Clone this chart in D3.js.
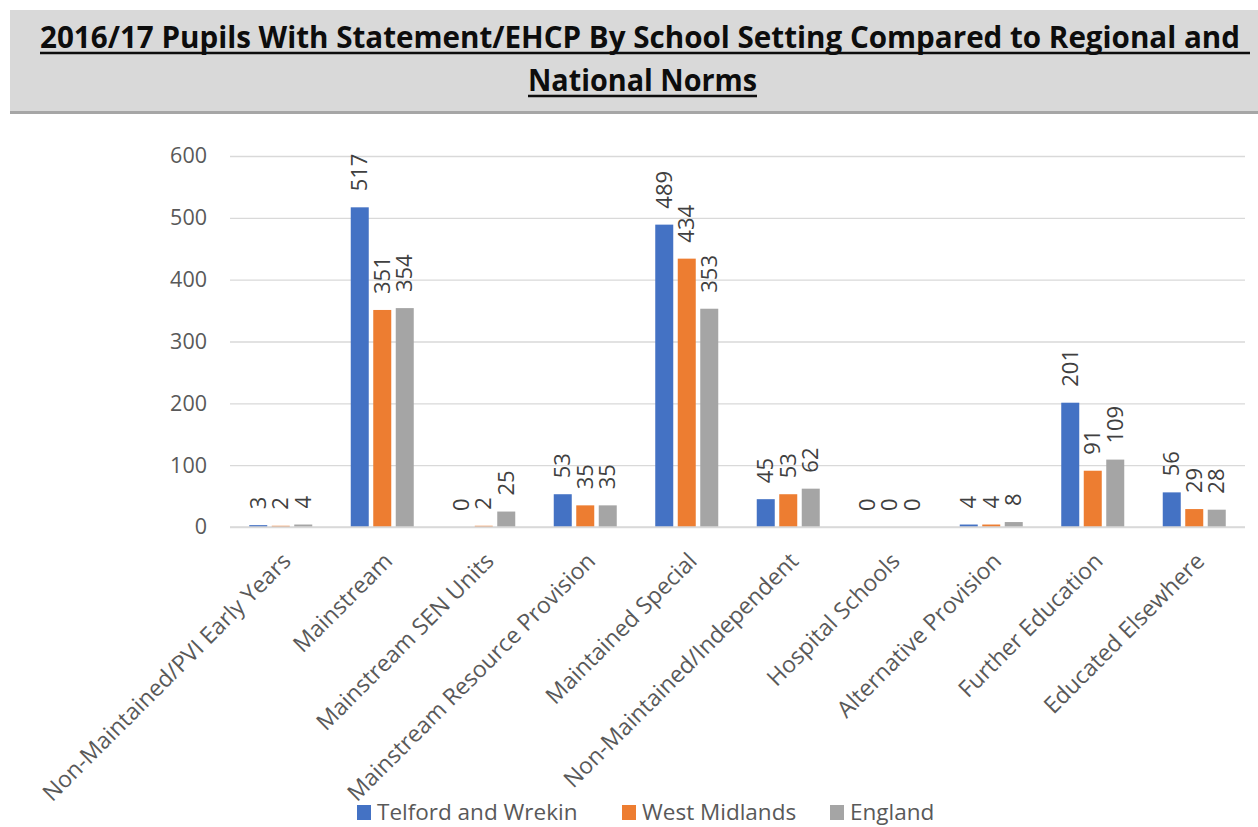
<!DOCTYPE html>
<html>
<head>
<meta charset="utf-8">
<script src="https://cdn.jsdelivr.net/npm/d3@7"></script>
<style>
  html, body { margin: 0; padding: 0; background: #ffffff; }
  svg { display: block; }
</style>
</head>
<body>
<svg id="chart" width="1258" height="827"></svg>
<script>
// Pupils with a Statement/EHCP, by school setting, 2016/17
const categories = [
  "Non-Maintained/PVI Early Years",
  "Mainstream",
  "Mainstream SEN Units",
  "Mainstream Resource Provision",
  "Maintained Special",
  "Non-Maintained/Independent",
  "Hospital Schools",
  "Alternative Provision",
  "Further Education",
  "Educated Elsewhere"
];
const seriesNames = ["Telford and Wrekin", "West Midlands", "England"];
const telfordWrekin = [3, 517, 0, 53, 489, 45, 0, 4, 201, 56];
const westMidlands  = [2, 351, 2, 35, 434, 53, 0, 4, 91, 29];
const england       = [4, 354, 25, 35, 353, 62, 0, 8, 109, 28];
const yTicks = [0, 100, 200, 300, 400, 500, 600];
const titleLines = [
  "2016/17 Pupils With Statement/EHCP By School Setting Compared to Regional and",
  "National Norms"
];

const seriesValues = [telfordWrekin, westMidlands, england];
const colors = ["#4472c4", "#ed7d31", "#a5a5a5"];
const fontUI = "'Open Sans', 'Noto Sans', sans-serif";

const svg = d3.select("#chart");

// ---- title band ----
svg.append("rect").attr("x", 10).attr("y", 10).attr("width", 1248).attr("height", 102)
  .attr("fill", "#d9d9d9");
svg.append("rect").attr("x", 10).attr("y", 111).attr("width", 1248).attr("height", 3)
  .attr("fill", "#a6a6a6");

const titleSpec = [
  { y: 48, x: 40, len: 1200, ul: [40, 1250], uy: 53 },
  { y: 91, x: 528, len: 229, ul: [528, 757], uy: 96 }
];
titleLines.forEach((t, i) => {
  const s = titleSpec[i];
  svg.append("text")
    .attr("x", s.x).attr("y", s.y)
    .attr("textLength", s.len).attr("lengthAdjust", "spacingAndGlyphs")
    .attr("font-family", fontUI).attr("font-weight", 700).attr("font-size", 30)
    .attr("fill", "#0d0d0d")
    .text(t);
  svg.append("line")
    .attr("x1", s.ul[0]).attr("x2", s.ul[1]).attr("y1", s.uy).attr("y2", s.uy)
    .attr("stroke", "#0d0d0d").attr("stroke-width", 2.5);
});

// ---- scales ----
const plot = { left: 230, right: 1245, top: 156, bottom: 527 };
const y = d3.scaleLinear().domain([0, 600]).range([plot.bottom, plot.top]);
const x0 = d3.scaleBand().domain(categories).range([plot.left, plot.right]).padding(0);
const groupWidth = 63;
const x1 = d3.scaleBand().domain(seriesNames).range([0, groupWidth]).paddingInner(0.2).paddingOuter(0);

// ---- gridlines and y labels ----
const yAxis = d3.axisLeft(y).tickValues(yTicks).tickSize(-(plot.right - plot.left)).tickPadding(23);
const gy = svg.append("g").attr("transform", `translate(${plot.left},0)`).call(yAxis);
gy.select(".domain").remove();
gy.selectAll(".tick line").attr("stroke", "#d9d9d9").attr("stroke-width", 1.3);
gy.selectAll(".tick text")
  .attr("font-family", fontUI).attr("font-size", 21.5).attr("fill", "#595959");

// ---- bars ----
const groups = svg.append("g").selectAll("g")
  .data(categories)
  .join("g")
  .attr("transform", c => `translate(${x0(c) + (x0.bandwidth() - groupWidth) / 2},0)`);

const cells = groups.selectAll("g.cell")
  .data((c, ci) => seriesNames.map((s, si) => ({ s, si, v: seriesValues[si][ci] })))
  .join("g").attr("class", "cell");

cells.append("rect")
  .attr("x", d => x1(d.s))
  .attr("y", d => y(d.v))
  .attr("width", x1.bandwidth())
  .attr("height", d => y(0) - y(d.v))
  .attr("fill", d => colors[d.si]);

// value labels, rotated vertical above each bar
cells.append("text")
  .attr("transform", d => `translate(${x1(d.s) + x1.bandwidth() / 2},${y(d.v) - 16}) rotate(-90)`)
  .attr("dy", "0.35em")
  .attr("text-anchor", "start")
  .attr("font-family", fontUI).attr("font-size", 22).attr("fill", "#404040")
  .text(d => d.v);

// ---- x axis line and category labels ----
svg.append("line")
  .attr("x1", plot.left).attr("x2", plot.right)
  .attr("y1", y(0)).attr("y2", y(0))
  .attr("stroke", "#d9d9d9").attr("stroke-width", 1.5);

svg.append("g").selectAll("text")
  .data(categories)
  .join("text")
  .attr("transform", c => `translate(${x0(c) + x0.bandwidth() / 2},${plot.bottom + 24}) rotate(-45)`)
  .attr("dy", "0.71em")
  .attr("text-anchor", "end")
  .attr("font-family", fontUI).attr("font-size", 23).attr("fill", "#595959")
  .text(c => c);

// ---- legend ----
const legendX = [357, 622, 830];
const legend = svg.append("g").selectAll("g")
  .data(seriesNames)
  .join("g")
  .attr("transform", (s, i) => `translate(${legendX[i]},805)`);
legend.append("rect").attr("width", 14).attr("height", 15)
  .attr("fill", (s, i) => colors[i]);
legend.append("text")
  .attr("x", 20).attr("y", 15)
  .attr("font-family", fontUI).attr("font-size", 22.5).attr("fill", "#595959")
  .text(s => s);
</script>
</body>
</html>
